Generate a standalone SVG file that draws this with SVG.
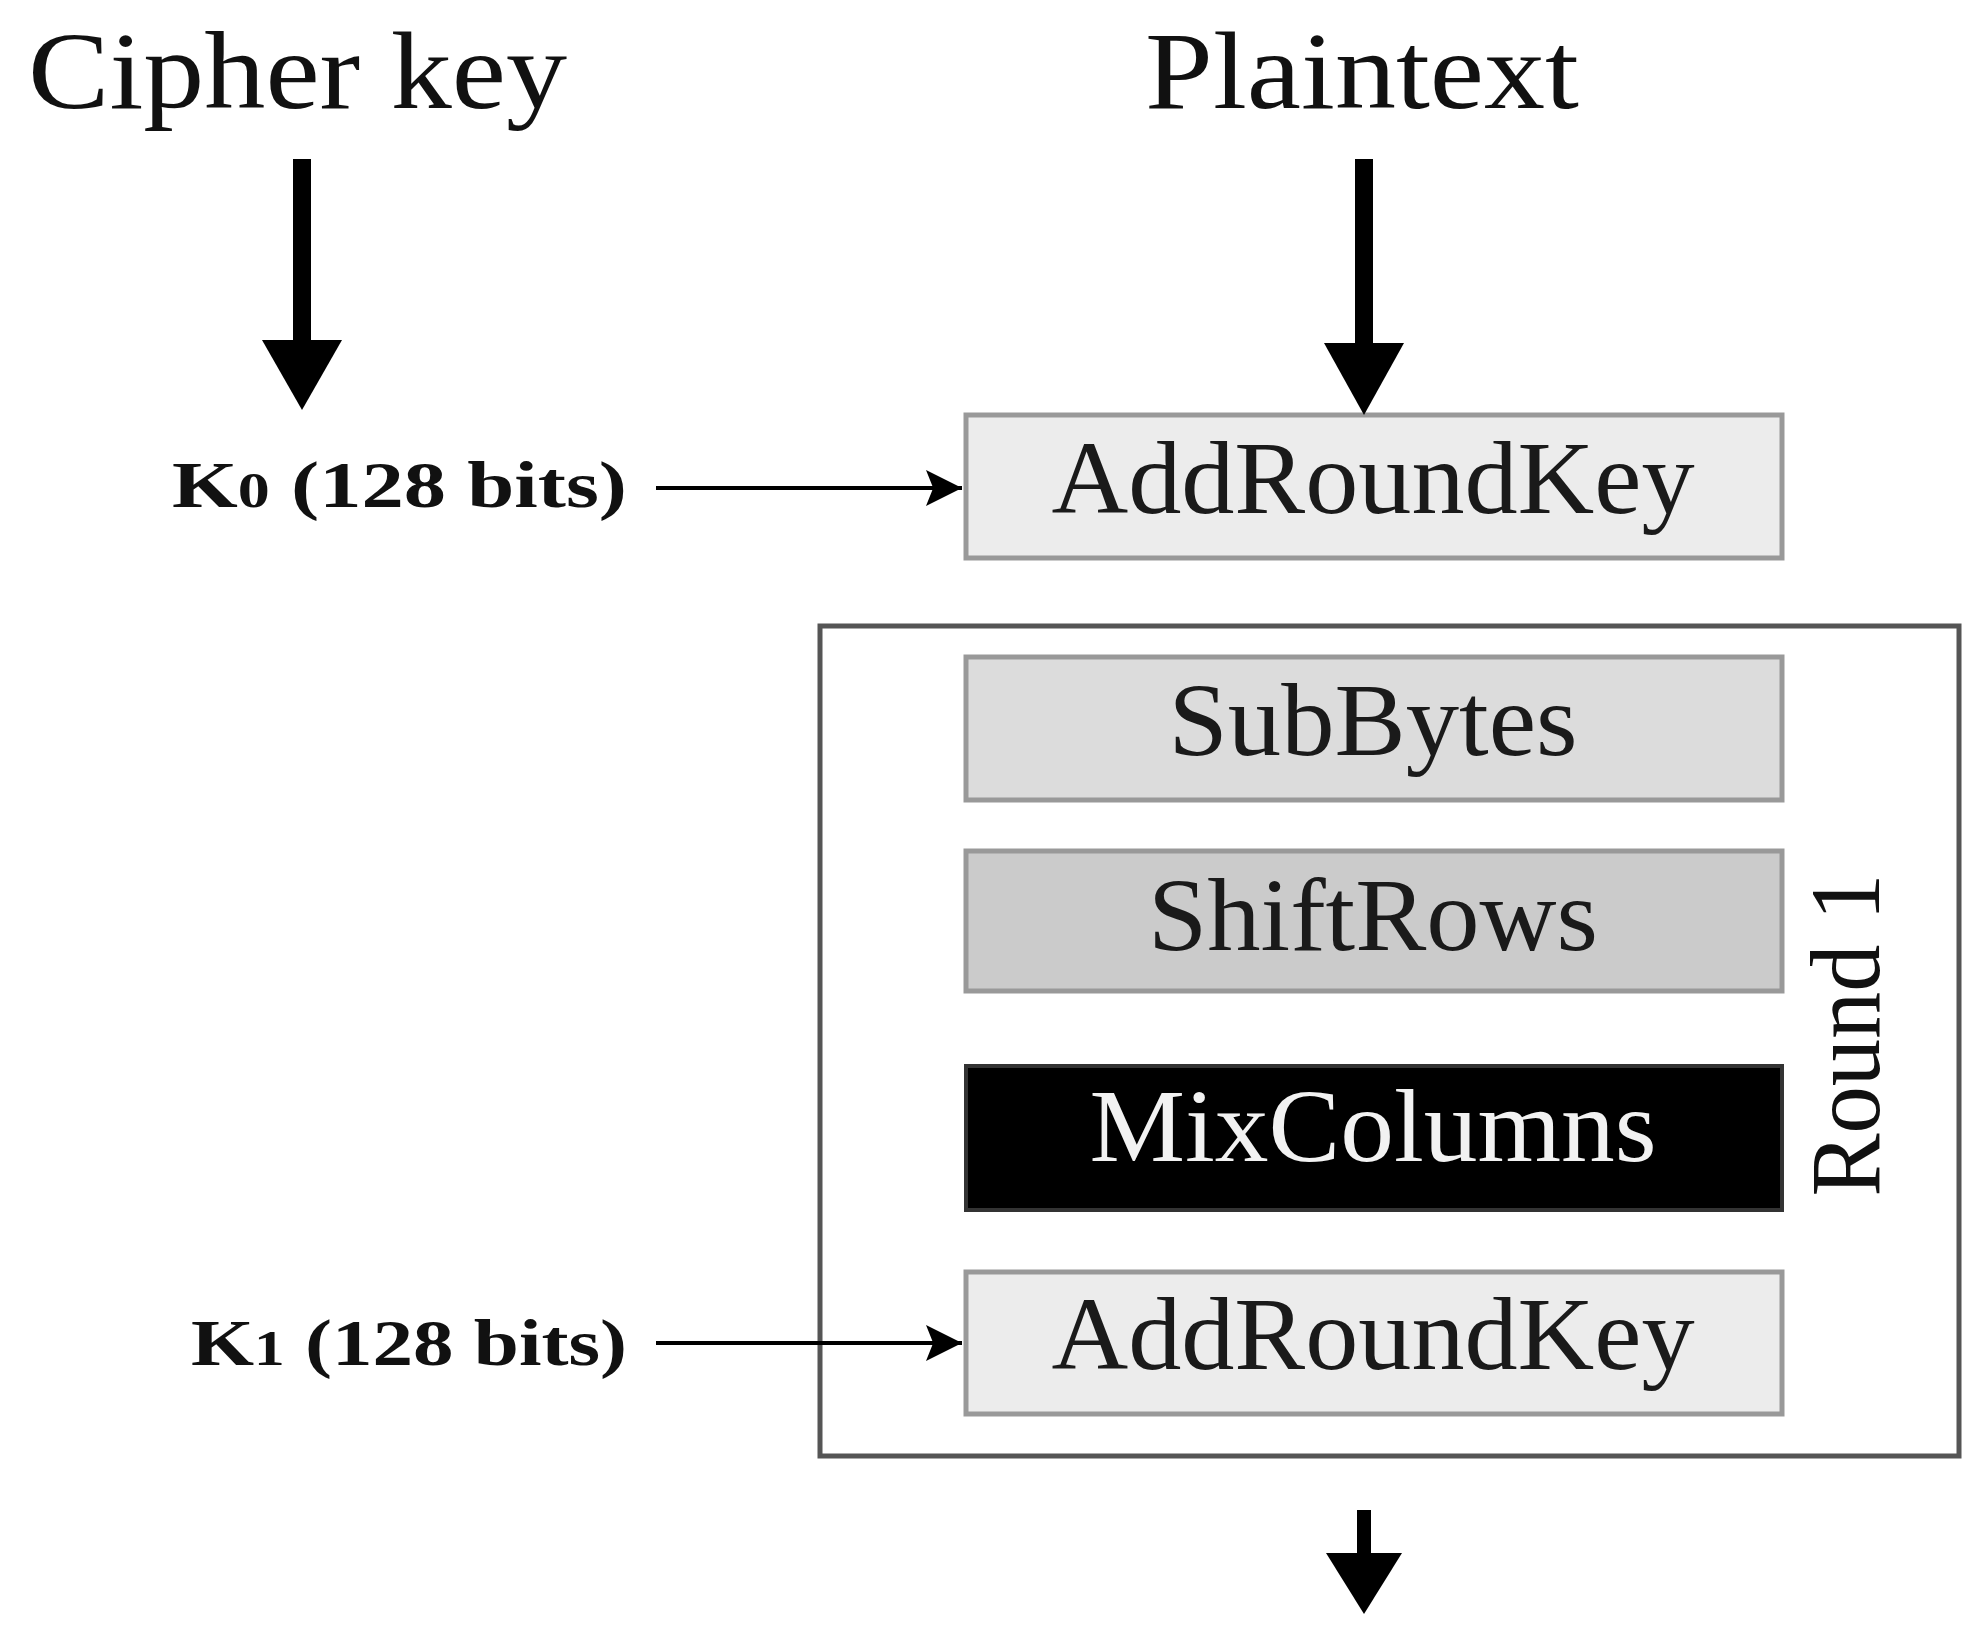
<svg xmlns="http://www.w3.org/2000/svg" width="1988" height="1646" viewBox="0 0 1988 1646">
<style>
.serif{font-family:"Liberation Serif","Times New Roman",serif;}
.title{font-size:110px;fill:#111;}
.op{font-size:104px;fill:#1a1a1a;text-anchor:middle;}
.key{font-size:66px;font-weight:bold;fill:#111;}
.box{stroke:#999;stroke-width:5;}
.thick{stroke:#000;stroke-width:18;fill:none;}
.thin{stroke:#000;stroke-width:4;fill:none;}
</style>
<defs>
<marker id="sm" viewBox="0 0 10 10" refX="10" refY="5" markerWidth="40" markerHeight="36" markerUnits="userSpaceOnUse" orient="auto">
<path d="M0,0 L10,5 L0,10 L2,5 Z" fill="#000"/>
</marker>
</defs>

<g id="label-cipher-key"><text class="serif title" x="28" y="108" textLength="539" lengthAdjust="spacingAndGlyphs">Cipher key</text></g>
<g id="label-plaintext"><text class="serif title" x="1145" y="108" textLength="434" lengthAdjust="spacingAndGlyphs">Plaintext</text></g>

<g id="label-k0"><text class="serif key" x="172" y="507" textLength="455" lengthAdjust="spacingAndGlyphs">K<tspan font-size="50">0</tspan> (128 bits)</text></g>
<g id="label-k1"><text class="serif key" x="191" y="1365" textLength="436" lengthAdjust="spacingAndGlyphs">K<tspan font-size="50">1</tspan> (128 bits)</text></g>

<g id="round1">
<rect x="820" y="626" width="1139" height="830" fill="#fff" stroke="#555" stroke-width="5"/>
<text class="serif" font-size="100" fill="#111" transform="translate(1879,1035) rotate(-90)" text-anchor="middle" textLength="323" lengthAdjust="spacingAndGlyphs">Round 1</text>
</g>

<g id="addroundkey-0">
<rect class="box" x="966" y="415" width="816" height="143" fill="#ececec"/>
<text class="serif op" x="1373" y="513" textLength="643" lengthAdjust="spacingAndGlyphs">AddRoundKey</text>
</g>
<g id="subbytes">
<rect class="box" x="966" y="657" width="816" height="143" fill="#dcdcdc"/>
<text class="serif op" x="1373" y="755" textLength="409" lengthAdjust="spacingAndGlyphs">SubBytes</text>
</g>
<g id="shiftrows">
<rect class="box" x="966" y="851" width="816" height="140" fill="#cbcbcb"/>
<text class="serif op" x="1373" y="950" textLength="450" lengthAdjust="spacingAndGlyphs">ShiftRows</text>
</g>
<g id="mixcolumns">
<rect x="966" y="1066" width="816" height="144" fill="#000" stroke="#333" stroke-width="4"/>
<text class="serif op" x="1373" y="1161" style="fill:#f2f2f2" textLength="567" lengthAdjust="spacingAndGlyphs">MixColumns</text>
</g>
<g id="addroundkey-1">
<rect class="box" x="966" y="1272" width="816" height="142" fill="#ececec"/>
<text class="serif op" x="1373" y="1369" textLength="643" lengthAdjust="spacingAndGlyphs">AddRoundKey</text>
</g>

<g id="connectors">
<line class="thick" x1="302" y1="159" x2="302" y2="345"/>
<path d="M262,340 L342,340 L302,410 Z" fill="#000"/>
<line class="thick" x1="1364" y1="159" x2="1364" y2="348"/>
<path d="M1324,343 L1404,343 L1364,415 Z" fill="#000"/>
<line class="thin" x1="656" y1="488" x2="962" y2="488" marker-end="url(#sm)"/>
<line class="thin" x1="656" y1="1343" x2="962" y2="1343" marker-end="url(#sm)"/>
<line stroke="#000" stroke-width="14" x1="1364" y1="1510" x2="1364" y2="1560"/>
<path d="M1326,1553 L1402,1553 L1364,1614 Z" fill="#000"/>
</g>
</svg>
